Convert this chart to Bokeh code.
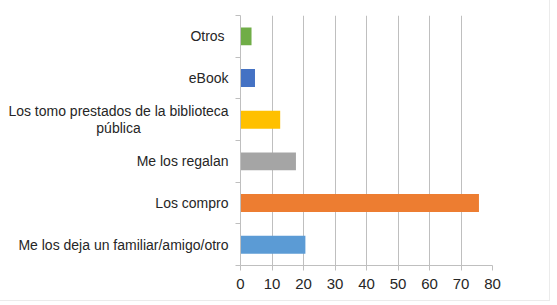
from bokeh.plotting import figure
from bokeh.layouts import row
from bokeh.models import ColumnDataSource, Range1d, FixedTicker
from bokeh.core.properties import value
from bokeh.embed import file_html
from bokeh.resources import INLINE

# Survey answers, bottom to top
categories = [
    "Me los deja un familiar/amigo/otro",
    "Los compro",
    "Me los regalan",
    "Los tomo prestados de la biblioteca\npública",
    "eBook",
    "Otros ",
]
values = [20.6, 75.7, 17.6, 12.6, 4.6, 3.5]
colors = ["#5B9BD5", "#ED7D31", "#A5A5A5", "#FFC000", "#4472C4", "#70AD47"]
x_ticks = [0, 10, 20, 30, 40, 50, 60, 70, 80]

FONT = "Liberation Sans"
TEXT = "#262626"
GRID = "#BFBFBF"

ypos = [i + 0.5 for i in range(len(categories))]
y_range = Range1d(0, len(categories))

# --- label column (x measured in pixels) ---
LABEL_W = 230
LABEL_RIGHT = 228
WRAP_WIDTH = 220
LINE_H = 17

lab = figure(
    frame_width=LABEL_W, frame_height=250,
    min_border_left=0, min_border_right=0, min_border_top=15, min_border_bottom=35,
    x_range=Range1d(0, LABEL_W), y_range=y_range,
    x_axis_type=None, y_axis_type=None,
    output_backend="svg", toolbar_location=None,
)
lab.outline_line_color = None
lab.grid.grid_line_color = None

single = dict(x=[], y=[], t=[])
multi = dict(x=[], y=[], t=[], dy=[])
for y, cat in zip(ypos, categories):
    lines = cat.split("\n")
    n = len(lines)
    if n == 1:
        single["x"].append(LABEL_RIGHT); single["y"].append(y); single["t"].append(cat)
    else:
        for i, ln in enumerate(lines):
            multi["x"].append(LABEL_RIGHT - WRAP_WIDTH / 2); multi["y"].append(y)
            multi["t"].append(ln); multi["dy"].append((i - (n - 1) / 2) * LINE_H)

lab.text(x="x", y="y", text="t", source=ColumnDataSource(single),
         text_align="right", text_baseline="middle",
         text_font=value(FONT), text_font_size="14px", text_color=TEXT)
lab.text(x="x", y="y", text="t", y_offset="dy", source=ColumnDataSource(multi),
         text_align="center", text_baseline="middle",
         text_font=value(FONT), text_font_size="14px", text_color=TEXT)

# --- bar chart ---
p = figure(
    frame_width=252, frame_height=250,
    min_border_left=10, min_border_right=57,
    min_border_top=15, min_border_bottom=35,
    x_range=Range1d(0, 80), y_range=y_range,
    output_backend="svg", toolbar_location=None,
)
p.outline_line_color = None

src = ColumnDataSource(dict(y=ypos, v=values, c=colors))
p.hbar(y="y", left=0, right="v", height=0.43, fill_color="c", line_color=None, source=src)

p.xaxis.ticker = FixedTicker(ticks=x_ticks)
p.xaxis.axis_line_color = GRID
p.xaxis.major_tick_line_color = GRID
p.xaxis.major_tick_out = 5
p.xaxis.major_tick_in = 0
p.xaxis.minor_tick_line_color = None
p.xaxis.major_label_standoff = 8
p.xaxis.major_label_text_font = FONT
p.xaxis.major_label_text_font_size = "15px"
p.xaxis.major_label_text_color = TEXT

# tick marks between the categories only (drawn as minor ticks, no labels)
p.yaxis.ticker = FixedTicker(ticks=[], minor_ticks=list(range(len(categories) + 1)))
p.yaxis.axis_line_color = GRID
p.yaxis.major_tick_line_color = None
p.yaxis.minor_tick_line_color = GRID
p.yaxis.minor_tick_out = 5
p.yaxis.minor_tick_in = 0

p.xgrid.ticker = FixedTicker(ticks=x_ticks)
p.xgrid.grid_line_color = GRID
p.ygrid.grid_line_color = None

layout = row(lab, p)
layout.styles = {"border-right": "1px solid #ebebeb", "border-bottom": "1px solid #ebebeb"}

open("out.html", "w").write(file_html(layout, INLINE))
